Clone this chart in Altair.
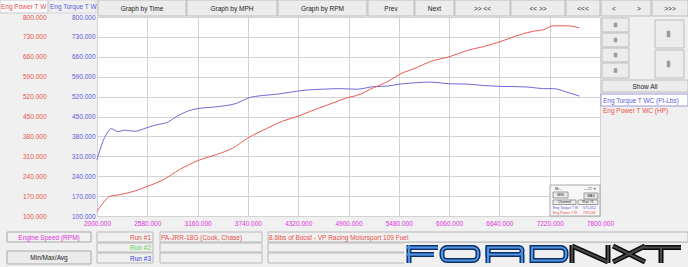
import altair as alt
import pandas as pd

# ---------------- data ----------------
torque_rpm = [2000, 2069, 2108, 2165, 2242, 2319, 2434, 2580, 2703, 2799, 2914, 3029, 3163, 3298,
              3452, 3605, 3743, 3912, 4066, 4220, 4412, 4604, 4796, 4996, 5188, 5342, 5495, 5687,
              5841, 6072, 6264, 6456, 6648, 6840, 6994, 7147, 7262, 7416, 7562]
torque_val = [298, 363, 388, 407, 397, 402, 398, 411, 422, 428, 449, 467, 478, 482,
              487, 496, 515, 524, 528, 535, 543, 546, 548, 546, 555, 557, 564, 569,
              571, 565, 564, 559, 556, 555, 553, 548, 548, 536, 522]

power_rpm = [2000, 2069, 2146, 2242, 2415, 2580, 2760, 2952, 3163, 3375, 3567, 3743, 3951, 4143,
             4319, 4450, 4680, 4911, 4996, 5188, 5342, 5495, 5687, 5841, 6072, 6264, 6456, 6648,
             6840, 7032, 7147, 7262, 7416, 7562]
power_val = [116, 145, 169, 174, 186, 204, 227, 263, 295, 316, 339, 375, 407, 434,
             451, 467, 493, 518, 524, 551, 571, 599, 622, 643, 661, 682, 696, 713,
             734, 750, 755, 769, 769, 762]

x_ticks = [2000, 2580, 3160, 3740, 4320, 4900, 5480, 6060, 6640, 7220, 7800]
y_ticks = [100, 170, 240, 310, 380, 450, 520, 590, 660, 730, 800]

torque_name = "Eng Torque T WC (Ft-Lbs)"
power_name = "Eng Power T WC (HP)"

FONT = "Liberation Sans"
BLUE = "#5a5ad8"
RED = "#e8504a"
MAG = "#e030e0"
OX, OY = 97, 17  # plot origin in page pixels

tdf = pd.DataFrame({"rpm": torque_rpm, "val": torque_val})
pdf = pd.DataFrame({"rpm": power_rpm, "val": power_val})
dummy = pd.DataFrame({"a": [1]})

xscale = alt.Scale(domain=[2000, 7800], nice=False, zero=False)
yscale = alt.Scale(domain=[100, 800], nice=False, zero=False)

common_axis = dict(values=y_ticks, format=".3f", labelFont=FONT, labelFontSize=6.5,
                   ticks=False, domain=False, title=None, labelPadding=2)

torque_line = alt.Chart(tdf).mark_line(color="#6e6ad6", strokeWidth=1, interpolate="monotone").encode(
    x=alt.X("rpm:Q", scale=xscale,
            axis=alt.Axis(values=x_ticks, format=".3f", labelFont=FONT, labelFontSize=6.5,
                          labelColor=MAG, ticks=False, domain=False, title=None,
                          labelPadding=4, labelFlush=False, grid=True,
                          gridColor="#d2d2d2", gridWidth=1)),
    y=alt.Y("val:Q", scale=yscale,
            axis=alt.Axis(orient="left", labelColor=BLUE, grid=True, gridColor="#d2d2d2",
                          gridWidth=1, **common_axis)),
)

power_line = alt.Chart(pdf).mark_line(color="#ea5a55", strokeWidth=1, interpolate="monotone").encode(
    x=alt.X("rpm:Q", scale=xscale),
    y=alt.Y("val:Q", scale=yscale,
            axis=alt.Axis(orient="left", offset=49, labelColor=RED, grid=False, **common_axis)),
)


def box(x0, y0, x1, y1, fill="#ececec", stroke="#bdbdbd", sw=1, r=0):
    return alt.Chart(dummy).mark_rect(fill=fill, stroke=stroke, strokeWidth=sw, cornerRadius=r).encode(
        x=alt.value(x0 - OX), x2=alt.value(x1 - OX), y=alt.value(y0 - OY), y2=alt.value(y1 - OY))


def ring(x0, y0, x1, y1, color, sw, r, square_left=False):
    kw = dict(fillOpacity=0, stroke=color, strokeWidth=sw, cornerRadius=r)
    if square_left:
        kw.update(cornerRadiusTopLeft=0, cornerRadiusBottomLeft=0,
                  cornerRadiusTopRight=r, cornerRadiusBottomRight=r)
    return alt.Chart(dummy).mark_rect(**kw).encode(
        x=alt.value(x0 - OX), x2=alt.value(x1 - OX), y=alt.value(y0 - OY), y2=alt.value(y1 - OY))


def seg(x0, y0, x1, y1, color, sw):
    return alt.Chart(dummy).mark_rule(color=color, strokeWidth=sw, strokeCap="butt").encode(
        x=alt.value(x0 - OX), x2=alt.value(x1 - OX), y=alt.value(y0 - OY), y2=alt.value(y1 - OY))


def label(txt, x, y, color="#222222", size=6.5, align="center", weight="normal", font=FONT):
    return alt.Chart(dummy).mark_text(text=txt, color=color, fontSize=size, align=align,
                                      baseline="middle", font=font, fontWeight=weight).encode(
        x=alt.value(x - OX), y=alt.value(y - OY))


deco = []
# top-left axis tabs
deco += [box(0, 0, 48, 13, fill="#fafafa", stroke="#c8c8c8"),
         label("Eng Power T W", 1, 6.5, color=RED, align="left"),
         box(49, 0, 96, 13, fill="#f0f0f0", stroke="#d8d8d8"),
         label("Eng Torque T W", 50, 6.5, color=BLUE, align="left")]

# top buttons
buttons = [("Graph by Time", 98, 186), ("Graph by MPH", 187, 277), ("Graph by RPM", 278, 367),
           ("Prev", 368, 414), ("Next", 415, 454), (">> <<", 455, 510), ("<< >>", 511, 565),
           ("<<<", 566, 600), (">>>", 652, 688)]
for t, a, b in buttons:
    deco += [box(a, 0, b, 16), label(t, (a + b) / 2, 8.5)]
deco += [box(601, 0, 651, 16), label("<", 614, 8.5), label(">", 639, 8.5)]

# right panel small buttons
for y0, y1 in [(18, 32), (33, 47), (48, 62), (63, 78)]:
    deco += [box(602, y0, 629, y1), box(614, (y0 + y1) / 2 - 2, 617, (y0 + y1) / 2 + 2,
                                          fill="#9a9a9a", stroke="#9a9a9a", sw=0.5)]
for y0, y1 in [(20, 48), (50, 78)]:
    deco += [box(655, y0, 684, y1), box(667, (y0 + y1) / 2 - 3, 670, (y0 + y1) / 2 + 3,
                                          fill="#9a9a9a", stroke="#9a9a9a", sw=0.5)]
deco += [box(602, 80, 688, 92), label("Show All", 645, 86.5)]

# legend
deco += [box(601, 94, 688, 106, fill="#ffffff", stroke="#9a9ad0"),
         label(torque_name, 603, 100.5, color=BLUE, align="left"),
         label(power_name, 603, 110.5, color=RED, align="left")]

# popup in plot
deco += [box(550, 185, 600, 216, fill="#f7f7f7", stroke="#a8a8a8"),
         label("Mi...", 555, 188.5, size=3.5, align="left"),
         label("—   ☐   ✕", 590, 188.5, size=3.5),
         box(553, 192, 568, 198, fill="#e8e8e8", stroke="#999"), label("MIN", 560.5, 195, size=3.5),
         box(584, 193, 598, 199, fill="#e8e8e8", stroke="#999"), label("MAX", 591, 196, size=3.5),
         box(553, 200, 576, 204.5, fill="#eeeeee", stroke="#999"), label("Channel", 564.5, 202.3, size=3.5),
         box(578, 200, 598, 204.5, fill="#eeeeee", stroke="#999"), label("Run #1", 588, 202.3, size=3.5),
         label("Eng Torque T W", 553, 207.5, color=BLUE, size=3.5, align="left"),
         label("571.052", 583, 207.5, color=BLUE, size=3.5, align="left"),
         label("Eng Power T W", 553, 212.5, color=RED, size=3.5, align="left"),
         label("769.046", 583, 212.5, color=RED, size=3.5, align="left")]

# bottom controls
deco += [box(7, 232, 91, 242, fill="#f0f0f0", stroke="#a8a8a8"),
         label("Engine Speed (RPM)", 49, 237.5, color=MAG),
         box(7, 251, 91, 264, fill="#ebebeb", stroke="#a8a8a8"),
         label("Min/Max/Avg", 49, 258)]
runs = [("Run #1", RED, 232, 242), ("Run #2", "#55d055", 243, 252), ("Run #3", "#3a3ae0", 253, 263)]
for t, c, y0, y1 in runs:
    deco += [box(97, y0, 153, y1, fill="#f0f0f0", stroke="#b8b8b8"),
             label(t, 151, (y0 + y1) / 2 + 0.5, color=c, align="right"),
             box(160, y0, 262, y1, fill="#f0f0f0", stroke="#b8b8b8"),
             box(268, y0, 688, y1, fill="#f0f0f0", stroke="#b8b8b8")]
deco += [label("PA-JRR-18G (Cook, Chase)", 161, 237.5, color=RED, align="left"),
         label("8.6lbs of Boost - VP Racing Motorsport 109 Fuel", 269, 237.5, color=RED, align="left")]

# logo "FORDNXT" drawn from strokes (outline + inner highlight)
deco += [box(404, 243, 688, 267, fill="#f0f0f0", stroke="#f0f0f0", sw=0)]
NAVY, LIGHT = "#0c2c62", "#4f95e6"
BLK, GRY = "#0a0a0a", "#4a4a4a"
ford_segs = [(409, 245, 409, 263), (407, 247.5, 438, 247.5), (407, 254.5, 434, 254.5),
             (488, 247, 488, 263), (522, 254, 522, 263)]
nxt_segs = [(572, 245, 572, 263), (572, 246, 608, 262), (608, 245, 608, 263),
            (613, 246, 645, 262), (645, 246, 613, 262),
            (641, 247.5, 681, 247.5), (661, 247.5, 661, 263)]
ford_rings = [(442, 247.5, 478, 260.5, 5, False), (488, 247.5, 522, 254.5, 3, True),
              (532, 247.5, 566, 260.5, 5, True)]
for x0, y0, x1, y1, r, sq in ford_rings:
    deco.append(ring(x0, y0, x1, y1, NAVY, 5, r, sq))
for x0, y0, x1, y1 in ford_segs:
    deco.append(seg(x0, y0, x1, y1, NAVY, 5))
for x0, y0, x1, y1, r, sq in ford_rings:
    deco.append(ring(x0, y0, x1, y1, LIGHT, 2.2, r, sq))
for x0, y0, x1, y1 in ford_segs:
    deco.append(seg(x0, y0, x1, y1, LIGHT, 2.2))
for x0, y0, x1, y1 in nxt_segs:
    deco.append(seg(x0, y0, x1, y1, BLK, 5))
for x0, y0, x1, y1 in nxt_segs:
    deco.append(seg(x0, y0, x1, y1, GRY, 2))

chart = alt.layer(torque_line, power_line, *deco).resolve_scale(y="independent").properties(
    width=503, height=199,
    padding={"left": OX, "top": OY, "right": 88, "bottom": 51},
    autosize=alt.AutoSizeParams(type="none"),
).configure(background="#f0f0f0").configure_view(fill="#ffffff", stroke="#a8a8a8", strokeWidth=1)

chart.save("out.html", embed_options={"renderer": "svg", "actions": False})
